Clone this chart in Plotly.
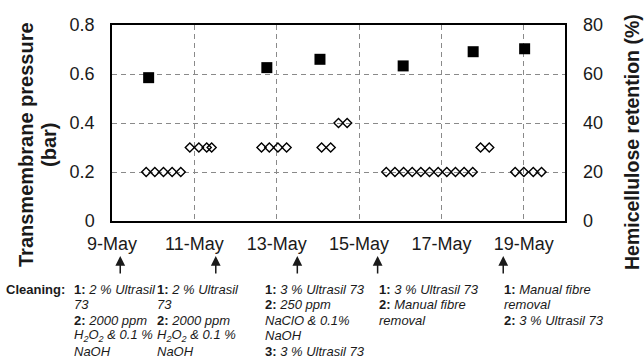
import plotly.graph_objects as go

# ---- data (x = day of May) ----
retention_days = [9.89, 12.76, 14.05, 16.07, 17.77, 19.02]
retention_pct = [58.5, 62.6, 66.0, 63.3, 69.1, 70.3]

tmp_days = [9.83, 10.04, 10.25, 10.46, 10.67,
            10.89, 11.11, 11.30, 11.42,
            12.63, 12.82, 13.03, 13.24,
            14.09, 14.31,
            14.50, 14.71,
            15.66, 15.87, 16.08, 16.29, 16.50, 16.71, 16.92, 17.13, 17.34, 17.55, 17.76,
            17.95, 18.16,
            18.79, 19.00, 19.23, 19.43]
tmp_bar = [0.2, 0.2, 0.2, 0.2, 0.2,
           0.3, 0.3, 0.3, 0.3,
           0.3, 0.3, 0.3, 0.3,
           0.3, 0.3,
           0.4, 0.4,
           0.2, 0.2, 0.2, 0.2, 0.2, 0.2, 0.2, 0.2, 0.2, 0.2, 0.2,
           0.3, 0.3,
           0.2, 0.2, 0.2, 0.2]

tick_days = [9, 11, 13, 15, 17, 19]
tick_labels = ["9-May", "11-May", "13-May", "15-May", "17-May", "19-May"]

cleaning_days = [9.2, 11.52, 13.5, 15.45, 18.5]
cleaning_text = [
    ["<b>1:</b> <i>2 % Ultrasil</i>", "<i>73</i>", "<b>2:</b> <i>2000 ppm</i>",
     "<i>H<sub>2</sub>O<sub>2</sub> &amp; 0.1 %</i>", "<i>NaOH</i>"],
    ["<b>1:</b> <i>2 % Ultrasil</i>", "<i>73</i>", "<b>2:</b> <i>2000 ppm</i>",
     "<i>H<sub>2</sub>O<sub>2</sub> &amp; 0.1 %</i>", "<i>NaOH</i>"],
    ["<b>1:</b> <i>3 % Ultrasil 73</i>", "<b>2:</b> <i>250 ppm</i>",
     "<i>NaClO &amp; 0.1%</i>", "<i>NaOH</i>", "<b>3:</b> <i>3 % Ultrasil 73</i>"],
    ["<b>1:</b> <i>3 % Ultrasil 73</i>", "<b>2:</b> <i>Manual fibre</i>", "<i>removal</i>"],
    ["<b>1:</b> <i>Manual fibre</i>", "<i>removal</i>", "<b>2:</b> <i>3 % Ultrasil 73</i>"],
]
block_left_px = [72, 155, 263, 377, 502]

FONT = "Liberation Sans, Arial, sans-serif"
TXT = "#1a1a1a"
W, H = 644, 356
L, R, T, B = 112, 79, 25, 135
PW, PH = W - L - R, H - T - B


def px_x(x):
    return (x - L) / PW


def px_y(y):
    return (H - B - y) / PH


fig = go.Figure()
fig.add_trace(go.Scatter(
    x=tmp_days, y=tmp_bar, mode="markers", yaxis="y",
    marker=dict(symbol="diamond-open", size=7, color="black", line=dict(width=1.4, color="black")),
    showlegend=False))
fig.add_trace(go.Scatter(
    x=retention_days, y=retention_pct, mode="markers", yaxis="y2",
    marker=dict(symbol="square", size=11, color="black"),
    showlegend=False))

annotations = []
# arrows
for d in cleaning_days:
    annotations.append(dict(x=d, y=px_y(256), xref="x", yref="paper", text="",
                            showarrow=True, ax=0, ay=19, arrowhead=2, arrowsize=1.3,
                            arrowwidth=1.5, arrowcolor=TXT))
# cleaning text
line_y = [289, 304.5, 320, 335.5, 351]
for left, lines in zip(block_left_px, cleaning_text):
    for i, t in enumerate(lines):
        annotations.append(dict(x=px_x(left), y=px_y(line_y[i]), xref="paper", yref="paper",
                                text=t, showarrow=False, xanchor="left", yanchor="middle",
                                font=dict(family=FONT, size=13, color=TXT)))
annotations.append(dict(x=px_x(67), y=px_y(289), xref="paper", yref="paper",
                        text="<b>Cleaning:</b>", showarrow=False, xanchor="right", yanchor="middle",
                        font=dict(family=FONT, size=13, color=TXT)))
# axis titles
annotations.append(dict(x=px_x(26), y=px_y(145), xref="paper", yref="paper",
                        text="<b>Transmembrane pressure</b>", textangle=-90,
                        showarrow=False, xanchor="center", yanchor="middle",
                        font=dict(family=FONT, size=20, color=TXT)))
annotations.append(dict(x=px_x(49), y=px_y(145), xref="paper", yref="paper",
                        text="<b>(bar)</b>", textangle=-90,
                        showarrow=False, xanchor="center", yanchor="middle",
                        font=dict(family=FONT, size=20, color=TXT)))
annotations.append(dict(x=px_x(632), y=px_y(142), xref="paper", yref="paper",
                        text="<b>Hemicellulose retention (%)</b>", textangle=-90,
                        showarrow=False, xanchor="center", yanchor="middle",
                        font=dict(family=FONT, size=19.5, color=TXT)))

grid = dict(showgrid=True, gridcolor="#8a8a8a", gridwidth=1, griddash="5px,4px")

fig.update_layout(
    width=W, height=H,
    margin=dict(l=L, r=R, t=T, b=B, pad=0),
    paper_bgcolor="white", plot_bgcolor="white",
    font=dict(family=FONT, color=TXT),
    xaxis=dict(range=[9, 20], tickmode="array", tickvals=tick_days, ticktext=tick_labels,
               tickfont=dict(size=18, color=TXT), ticks="", ticklabelstandoff=6,
               showline=True, linecolor="black", linewidth=1.5, mirror=True,
               zeroline=False, **grid),
    yaxis=dict(range=[0, 0.8], tickmode="array", tickvals=[0, 0.2, 0.4, 0.6, 0.8],
               ticktext=["0", "0.2", "0.4", "0.6", "0.8"],
               tickfont=dict(size=18, color=TXT), ticks="", ticklabelstandoff=12,
               showline=True, linecolor="black", linewidth=1.5, mirror=True,
               zeroline=False, **grid),
    yaxis2=dict(range=[0, 80], overlaying="y", side="right", tickmode="array",
                tickvals=[0, 20, 40, 60, 80], tickfont=dict(size=18, color=TXT),
                ticks="", ticklabelstandoff=17, showgrid=False, showline=False,
                zeroline=False),
    annotations=annotations,
    showlegend=False,
)

fig.write_html("out.html", config={"displayModeBar": False},
               post_script="document.body.style.margin='0';document.body.style.overflow='hidden';")
